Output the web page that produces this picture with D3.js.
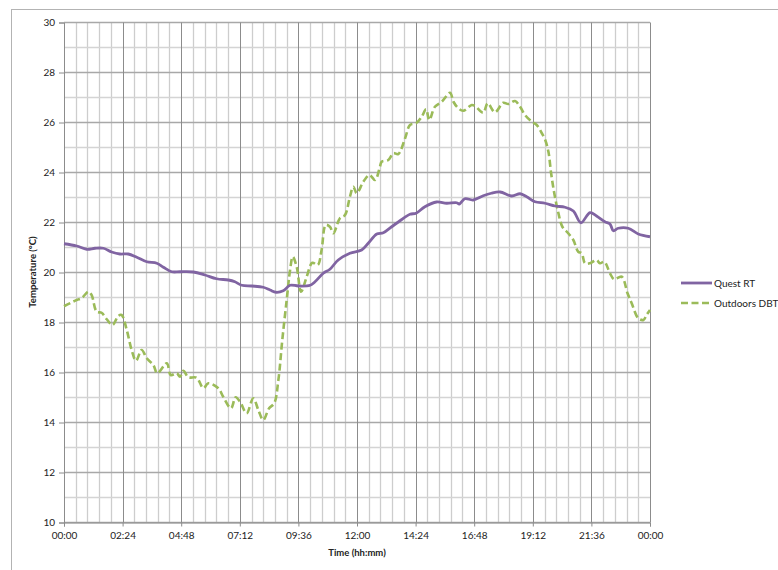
<!DOCTYPE html>
<html lang="en">
<head>
    <meta charset="UTF-8">
    <title>Quest RT vs Outdoors DBT</title>
    <script src="https://d3js.org/d3.v7.min.js"></script>
    <style>
        body { margin: 0; background: #fff; }
        svg text { font-family: Lato, "Liberation Sans", sans-serif; fill: #222; }
        .tick-label { font-size: 10px; }
        .axis-title { font-size: 9.5px; font-weight: bold; }
        .legend-label { font-size: 10px; }
    </style>
</head>
<body>
    <svg id="chart" width="778" height="570"></svg>
    <script>
        // time in hours since midnight, temperatures in degC
        const questTime = [0, 0.52, 0.93, 1.27, 1.61, 1.95, 2.29, 2.63, 2.98, 3.39, 3.80, 4.07, 4.41, 4.75, 5.30, 5.77,
            6.25, 6.73, 7.0, 7.28, 7.69, 8.16, 8.44, 8.68, 8.98, 9.26, 9.60, 10.08, 10.28, 10.62, 10.89, 11.23,
            11.71, 12.19, 12.46, 12.81, 13.08, 13.42, 13.76, 14.17, 14.42, 14.78, 15.26, 15.67, 16.08, 16.19, 16.42,
            16.76, 17.17, 17.5, 17.86, 18.34, 18.68, 18.95, 19.29, 19.70, 20.11, 20.52, 20.86, 21.17, 21.54, 21.81,
            22.15, 22.36, 22.50, 22.70, 23.11, 23.52, 24.0];
        const questRT = [21.15, 21.06, 20.93, 20.97, 20.97, 20.82, 20.74, 20.74, 20.61, 20.43, 20.37, 20.21, 20.03, 20.03, 20.02, 19.90,
            19.75, 19.70, 19.63, 19.49, 19.46, 19.41, 19.30, 19.21, 19.27, 19.49, 19.46, 19.49, 19.63, 19.97, 20.13, 20.50,
            20.77, 20.90, 21.17, 21.54, 21.59, 21.83, 22.07, 22.33, 22.37, 22.63, 22.82, 22.77, 22.79, 22.74, 22.95,
            22.90, 23.07, 23.17, 23.22, 23.06, 23.15, 23.03, 22.83, 22.77, 22.66, 22.61, 22.46, 21.99, 22.39, 22.26,
            22.03, 21.94, 21.67, 21.77, 21.77, 21.54, 21.43];

        const dbtTime = [0, 0.52, 0.72, 1.0, 1.13, 1.34, 1.54, 1.75, 1.99, 2.22, 2.36, 2.57, 2.77, 2.95, 3.18, 3.39,
            3.66, 3.82, 4.21, 4.37, 4.62, 4.75, 4.89, 5.09, 5.43, 5.71, 5.91, 6.32, 6.52, 6.84, 7.03, 7.21,
            7.48, 7.75, 7.96, 8.16, 8.40, 8.61, 8.78, 8.94, 9.12, 9.26, 9.37, 9.53, 9.71, 9.94, 10.17, 10.39,
            10.55, 10.72, 10.89, 11.03, 11.30, 11.51, 11.71, 11.85, 11.99, 12.26, 12.51, 12.74, 12.94, 13.01, 13.28,
            13.49, 13.69, 13.97, 14.17, 14.42, 14.65, 14.83, 14.96, 15.19, 15.47, 15.81, 15.95, 16.15, 16.35, 16.70,
            16.83, 17.17, 17.35, 17.65, 17.99, 18.20, 18.47, 18.68, 18.88, 19.16, 19.36, 19.57, 19.70, 19.84, 19.95,
            20.08, 20.25, 20.41, 20.65, 20.86, 21.06, 21.20, 21.34, 21.54, 21.81, 21.95, 22.13, 22.36, 22.53, 22.84,
            23.08, 23.25, 23.52, 23.73, 23.86, 24.0];
        const outdoorsDBT = [18.65, 18.90, 18.97, 19.23, 19.10, 18.43, 18.39, 18.13, 17.90, 18.26, 18.30, 17.70, 16.90, 16.47, 16.90, 16.57,
            16.30, 15.97, 16.37, 15.90, 15.97, 15.83, 16.07, 15.81, 15.79, 15.37, 15.57, 15.37, 15.03, 14.57, 15.01, 14.83,
            14.37, 14.97, 14.50, 14.10, 14.57, 14.77, 15.70, 17.30, 18.90, 20.10, 20.63, 20.23, 19.23, 19.83, 20.39, 20.30,
            20.90, 21.90, 21.83, 21.57, 22.17, 22.30, 23.03, 23.43, 23.17, 23.63, 23.90, 23.70, 24.23, 24.43, 24.50,
            24.77, 24.74, 25.37, 25.90, 25.97, 26.23, 26.53, 26.10, 26.63, 26.83, 27.19, 26.83, 26.57, 26.47, 26.70,
            26.66, 26.39, 26.77, 26.41, 26.79, 26.74, 26.86, 26.63, 26.30, 26.03, 25.90, 25.57, 25.33, 24.83, 23.97,
            23.17, 22.37, 21.83, 21.57, 21.30, 20.83, 20.77, 20.37, 20.37, 20.50, 20.37, 20.43, 19.97, 19.73, 19.83,
            19.17, 18.77, 18.17, 18.10, 18.30, 18.50];

        const xTickHours = [0, 2.4, 4.8, 7.2, 9.6, 12, 14.4, 16.8, 19.2, 21.6, 24];
        const xTickLabels = ["00:00", "02:24", "04:48", "07:12", "09:36", "12:00", "14:24", "16:48", "19:12", "21:36", "00:00"];
        const yTicks = [10, 12, 14, 16, 18, 20, 22, 24, 26, 28, 30];
        const seriesNames = ["Quest RT", "Outdoors DBT"];
        const seriesColors = ["#8064a2", "#9bbb59"];

        const svg = d3.select("#chart");
        const margin = { left: 64, top: 22.5, right: 128, bottom: 47.5 };
        const width = 778 - margin.left - margin.right,   // 586
              height = 570 - margin.top - margin.bottom; // 500

        // outer chart frame
        svg.append("rect").attr("x", 11.5).attr("y", 9.5).attr("width", 800).attr("height", 600)
            .attr("fill", "none").attr("stroke", "#b3b3b3").attr("stroke-width", 1);

        const x = d3.scaleLinear().domain([0, 24]).range([0, width]);
        const y = d3.scaleLinear().domain([10, 30]).range([height, 0]);

        const g = svg.append("g").attr("transform", `translate(${margin.left},${margin.top})`);

        // minor grid
        const minorX = d3.range(0, 24.001, 0.48).filter(h => !xTickHours.some(t => Math.abs(t - h) < 0.01));
        g.append("g").selectAll("line").data(minorX).enter().append("line")
            .attr("x1", d => Math.round(x(d)) + 0.5).attr("x2", d => Math.round(x(d)) + 0.5)
            .attr("y1", 0).attr("y2", height)
            .attr("stroke", "#cdcdcd").attr("stroke-width", 1.3);
        const minorY = d3.range(11, 30, 2);
        g.append("g").selectAll("line").data(minorY).enter().append("line")
            .attr("x1", 0).attr("x2", width)
            .attr("y1", d => y(d)).attr("y2", d => y(d))
            .attr("stroke", "#d4d4d4").attr("stroke-width", 1.3);

        // major grid
        g.append("g").selectAll("line").data(yTicks).enter().append("line")
            .attr("x1", 0).attr("x2", width)
            .attr("y1", d => y(d)).attr("y2", d => y(d))
            .attr("stroke", "#a8a8a8").attr("stroke-width", 1.3);
        g.append("g").selectAll("line").data(xTickHours.slice(1)).enter().append("line")
            .attr("x1", d => Math.round(x(d)) + 0.5).attr("x2", d => Math.round(x(d)) + 0.5)
            .attr("y1", 0).attr("y2", height)
            .attr("stroke", "#8c8c8c").attr("stroke-width", 1);

        // axes
        const yAxis = d3.axisLeft(y).tickValues(yTicks).tickSize(5).tickPadding(4);
        const yG = g.append("g").call(yAxis);
        yG.select(".domain").attr("stroke", "#8c8c8c");
        yG.selectAll(".tick line").attr("stroke", "#8c8c8c");
        yG.selectAll(".tick text").attr("class", "tick-label").style("font-size", "10px").attr("fill", "#222");

        const xAxis = d3.axisBottom(x).tickValues(xTickHours).tickSize(4).tickPadding(5)
            .tickFormat((d, i) => xTickLabels[i]);
        const xG = g.append("g").attr("transform", `translate(0,${height})`).call(xAxis);
        xG.select(".domain").attr("stroke", "#8c8c8c");
        xG.selectAll(".tick line").attr("stroke", "#8c8c8c");
        xG.selectAll(".tick text").style("font-size", "10px").attr("fill", "#222");

        // lines
        const line = d3.line().x(d => x(d[0])).y(d => y(d[1])).curve(d3.curveCatmullRom.alpha(0.5));
        const questData = d3.zip(questTime, questRT);
        const dbtData = d3.zip(dbtTime, outdoorsDBT);

        g.append("path").datum(dbtData).attr("fill", "none")
            .attr("stroke", seriesColors[1]).attr("stroke-width", 2.6)
            .attr("stroke-dasharray", "7,3.5").attr("d", line);
        g.append("path").datum(questData).attr("fill", "none")
            .attr("stroke", seriesColors[0]).attr("stroke-width", 2.8).attr("d", line);

        // axis titles
        svg.append("text").attr("class", "axis-title")
            .attr("transform", "translate(36,272) rotate(-90)")
            .attr("text-anchor", "middle").text("Temperature (°C)");
        svg.append("text").attr("class", "axis-title")
            .attr("x", 357).attr("y", 556).attr("text-anchor", "middle").text("Time (hh:mm)");

        // legend
        const legend = svg.append("g").attr("transform", "translate(681,283)");
        seriesNames.forEach((name, i) => {
            const row = legend.append("g").attr("transform", `translate(0,${i * 20})`);
            row.append("line").attr("x1", 0).attr("x2", 31).attr("y1", 0).attr("y2", 0)
                .attr("stroke", seriesColors[i]).attr("stroke-width", i === 0 ? 2.8 : 2.6)
                .attr("stroke-dasharray", i === 0 ? null : "7,3.5");
            row.append("text").attr("class", "legend-label").attr("x", 33).attr("y", 3.5).text(name);
        });
    </script>
</body>
</html>
